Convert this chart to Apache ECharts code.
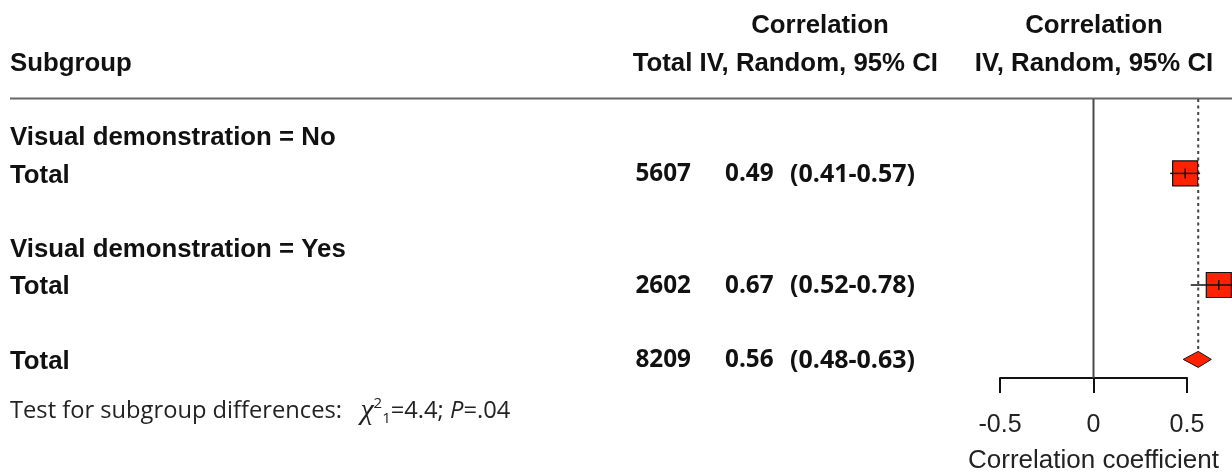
<!DOCTYPE html>
<html>
<head>
<meta charset="utf-8">
<script src="https://cdn.jsdelivr.net/npm/echarts@6/dist/echarts.min.js"></script>
<style>
  html, body { margin: 0; padding: 0; background: #ffffff; }
  #chart { width: 1232px; height: 473px; }
</style>
</head>
<body>
<div id="chart"></div>
<script>
// Table rows (empty strings are spacer rows)
const rowLabels = ['Visual demonstration = No', 'Total', '', 'Visual demonstration = Yes', 'Total', '', 'Total'];
// Which rows carry a result, in the same order as the result arrays below
const resultRows = [1, 4, 6];
const participants = [5607, 2602, 8209];
const estimates = [0.49, 0.67, 0.56];
const ciLower = [0.41, 0.52, 0.48];
const ciUpper = [0.57, 0.78, 0.63];
const xTicks = [-0.5, 0, 0.5];
const headerMid = ['Correlation', 'Total IV, Random, 95% CI'];
const headerRight = ['Correlation', 'IV, Random, 95% CI'];
const testChi2 = '4.4';
const testDf = '1';
const testP = '.04';

const overallIndex = estimates.length - 1;
const RED = '#ff2200';
const INK = '#111111';
const SANS = '"Liberation Sans", Arial, Helvetica, sans-serif';
const labelFace = { fontFamily: SANS, fontWeight: 'bold', fontSize: 25.8 };
const numFace = { fontFamily: '"Open Sans", sans-serif', fontWeight: 'bold', fontSize: 24.3 };

function textEl(str, x, y, align, face, vAlign) {
  const va = vAlign || 'middle';
  return {
    type: 'text',
    style: Object.assign({
      text: str, x: x, y: y,
      align: align, textAlign: align,
      verticalAlign: va, textVerticalAlign: va,
      fill: INK
    }, face)
  };
}

const rowData = rowLabels.map((_, i) => [0, i + 1]);
const forestData = resultRows.map((r, i) => [estimates[i], r + 1, ciLower[i], ciUpper[i]]);
const refData = [[0], [estimates[overallIndex]]];

function renderTable(params, api) {
  const i = params.dataIndex;
  const y = api.coord([0, api.value(1)])[1] + 1;
  const children = [];
  if (rowLabels[i]) children.push(textEl(rowLabels[i], 10, y + 1, 'left', labelFace));
  const k = resultRows.indexOf(i);
  if (k >= 0) {
    children.push(textEl(String(participants[k]), 691, y, 'right', numFace));
    children.push(textEl(estimates[k].toFixed(2), 725, y, 'left', numFace));
    children.push(textEl('(' + ciLower[k].toFixed(2) + '-' + ciUpper[k].toFixed(2) + ')', 790, y, 'left',
      Object.assign({}, numFace, { fontSize: 25 })));
  }
  return { type: 'group', children: children };
}

function renderRefLines(params, api) {
  const x = api.value(0);
  const top = api.coord([x, 0]);
  if (params.dataIndex === 0) {
    const bottom = api.coord([x, 7.5]);
    return {
      type: 'line',
      shape: { x1: top[0], y1: top[1], x2: bottom[0], y2: bottom[1] },
      style: { stroke: '#4a4a4a', lineWidth: 2 }
    };
  }
  const c = api.coord([x, resultRows[overallIndex] + 1]);
  return {
    type: 'line',
    shape: { x1: top[0], y1: top[1], x2: c[0], y2: c[1] - 8 },
    style: { stroke: '#444444', lineWidth: 2, lineDash: [3, 3.5] }
  };
}

function renderForest(params, api) {
  const y = api.value(1);
  const c = api.coord([api.value(0), y]);
  const lo = api.coord([api.value(2), y]);
  const hi = api.coord([api.value(3), y]);
  if (params.dataIndex === overallIndex) {
    return {
      type: 'polygon',
      shape: { points: [[lo[0], c[1]], [c[0], c[1] - 8], [hi[0], c[1]], [c[0], c[1] + 8]] },
      style: { fill: RED, stroke: INK, lineWidth: 1 }
    };
  }
  const half = 12.5;
  return {
    type: 'group',
    children: [
      { type: 'rect', shape: { x: c[0] - half, y: c[1] - half, width: half * 2, height: half * 2 },
        style: { fill: RED, stroke: INK, lineWidth: 1.2 } },
      { type: 'line', shape: { x1: lo[0], y1: c[1], x2: hi[0], y2: c[1] },
        style: { stroke: INK, lineWidth: 1.5 } },
      { type: 'line', shape: { x1: c[0], y1: c[1] - 5, x2: c[0], y2: c[1] + 5 },
        style: { stroke: INK, lineWidth: 1.5 } }
    ]
  };
}

const chart = echarts.init(document.getElementById('chart'), null, { renderer: 'canvas' });

chart.setOption({
  animation: false,
  backgroundColor: '#ffffff',
  grid: {
    left: 1000, top: 99, width: 187, height: 279,
    containLabel: false, outerBoundsMode: 'none'
  },
  xAxis: {
    type: 'value',
    min: xTicks[0],
    max: xTicks[xTicks.length - 1],
    interval: xTicks[1] - xTicks[0],
    axisLine: { show: true, onZero: false, lineStyle: { color: INK, width: 2 } },
    axisTick: { show: true, length: 15, lineStyle: { color: INK, width: 2 } },
    axisLabel: {
      margin: 35, fontFamily: SANS, fontSize: 25, color: '#222222',
      formatter: v => (v === 0 ? '0' : String(v))
    },
    splitLine: { show: false },
    name: 'Correlation coefficient',
    nameLocation: 'middle',
    nameGap: 70,
    nameTextStyle: { fontFamily: SANS, fontSize: 26, color: '#222222' }
  },
  yAxis: {
    type: 'value', min: 0, max: 7.5, inverse: true, show: false
  },
  series: [
    { type: 'custom', name: 'table', silent: true, clip: false, data: rowData, renderItem: renderTable, z: 3 },
    { type: 'custom', name: 'reference', silent: true, clip: false, data: refData, renderItem: renderRefLines, z: 2 },
    { type: 'custom', name: 'estimates', silent: true, clip: false, data: forestData, renderItem: renderForest, z: 4 }
  ],
  graphic: [
    textEl(headerMid[0], 820, 26, 'center', labelFace),
    textEl(headerMid[1], 938, 64, 'right', labelFace),
    textEl(headerRight[0], 1094, 26, 'center', labelFace),
    textEl(headerRight[1], 1094, 64, 'center', labelFace),
    textEl('Subgroup', 10, 64, 'left', labelFace),
    {
      type: 'line',
      shape: { x1: 10, y1: 98.5, x2: 1232, y2: 98.5 },
      style: { stroke: '#666666', lineWidth: 2 }
    },
    {
      type: 'text',
      style: {
        text: 'Test for subgroup differences:   {chi|χ}{sup|2}{sub|' + testDf + '}=' + testChi2 + '; {it|P}=' + testP,
        x: 10, y: 411,
        align: 'left', textAlign: 'left',
        verticalAlign: 'middle', textVerticalAlign: 'middle',
        fontFamily: '"Open Sans", sans-serif', fontSize: 23.7, lineHeight: 30, fill: '#222222',
        rich: {
          chi: { fontFamily: '"Liberation Serif", serif', fontStyle: 'italic', fontSize: 30, lineHeight: 30, fill: '#222222' },
          sup: { fontFamily: '"Open Sans", sans-serif', fontSize: 15, lineHeight: 15, verticalAlign: 'top', textVerticalAlign: 'top', fill: '#222222' },
          sub: { fontFamily: '"Open Sans", sans-serif', fontSize: 15, lineHeight: 15, verticalAlign: 'bottom', textVerticalAlign: 'bottom', fill: '#222222' },
          it: { fontFamily: '"Open Sans", sans-serif', fontStyle: 'italic', fontSize: 23.7, lineHeight: 30, fill: '#222222' }
        }
      }
    }
  ]
});
</script>
</body>
</html>
